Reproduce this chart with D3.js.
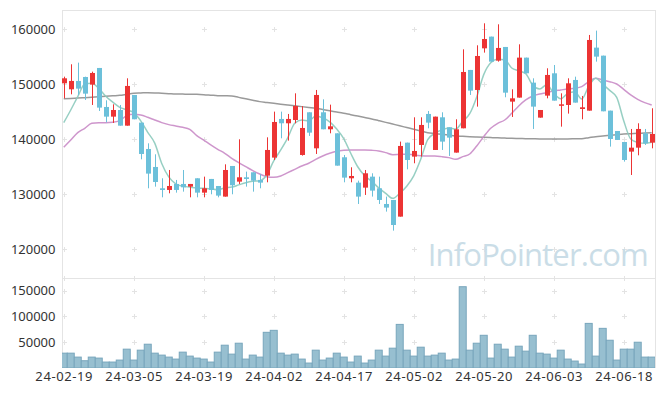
<!DOCTYPE html>
<html><head><meta charset="utf-8">
<script src="https://cdn.jsdelivr.net/npm/d3@7"></script>
<style>
html,body{margin:0;padding:0;background:#fff;}
svg{display:block;font-family:"Noto Sans",sans-serif;}
</style></head>
<body>
<svg id="chart" width="665" height="396"></svg>
<script>
const dates = ["24-02-19","24-02-20","24-02-21","24-02-22","24-02-23","24-02-26","24-02-27","24-02-28","24-02-29","24-03-04",
"24-03-05","24-03-06","24-03-07","24-03-08","24-03-11","24-03-12","24-03-13","24-03-14","24-03-15","24-03-18",
"24-03-19","24-03-20","24-03-21","24-03-22","24-03-25","24-03-26","24-03-27","24-03-28","24-03-29","24-04-01",
"24-04-02","24-04-03","24-04-04","24-04-05","24-04-08","24-04-09","24-04-11","24-04-12","24-04-15","24-04-16",
"24-04-17","24-04-18","24-04-19","24-04-22","24-04-23","24-04-24","24-04-25","24-04-26","24-04-29","24-04-30",
"24-05-02","24-05-03","24-05-07","24-05-08","24-05-09","24-05-10","24-05-13","24-05-14","24-05-16","24-05-17",
"24-05-20","24-05-21","24-05-22","24-05-23","24-05-24","24-05-27","24-05-28","24-05-29","24-05-30","24-05-31",
"24-06-03","24-06-04","24-06-05","24-06-07","24-06-10","24-06-11","24-06-12","24-06-13","24-06-14","24-06-17",
"24-06-18","24-06-19","24-06-20","24-06-21","24-06-24"];

const open  = [150120,149030,150550,151270,149880,152910,145820,144060,145270,142420,
148000,142970,138180,134910,131030,130730,131820,131820,131330,132850,
130240,132730,131450,129520,135090,132240,133030,133940,132550,133330,
136610,143640,142850,143450,137090,144850,138300,144850,141760,141030,
136670,132850,132060,131150,133150,131030,128180,128910,125880,139330,
136790,138910,144550,138000,143940,142120,137520,141940,152550,148910,
156480,158610,154240,156730,146790,147520,154790,150240,143880,147880,
151940,146060,146180,150730,145450,145150,156610,155150,145150,141450,
139450,137700,138420,141030,139330];
const high  = [151330,153580,153880,151330,152240,152910,147030,146300,146180,151030,
148000,142970,139210,137210,132850,134360,132550,134360,131820,132850,
133150,132730,131450,135390,135090,139940,134060,133940,133580,140300,
144970,144970,144550,148300,145970,144850,148910,147210,146240,141030,
137090,134850,132420,134360,133760,133150,129520,128910,139520,139330,
143940,143940,145090,144060,144850,142120,143580,156300,152550,157030,
161030,158610,160850,156730,149030,157210,154790,151030,145270,152850,
153450,148300,151030,151330,147820,158910,159700,155150,145150,141450,
139450,141820,142850,141820,145580];
const low   = [147390,148120,148000,147090,146180,145090,143030,142910,142420,142420,
143580,136300,131030,131330,129390,130120,130240,130420,129390,129390,
129390,129940,129390,129520,129940,131820,131330,130420,131030,132120,
136180,140120,139700,142850,136970,140550,137270,141760,141030,135150,
132120,132120,128180,129820,129520,128180,126790,123330,125880,134480,
135580,136790,141940,138000,138000,136910,137520,141940,148000,145880,
155700,154060,154060,147580,144000,147520,151940,141820,143880,147390,
146970,142240,144610,146610,143580,145150,154060,145030,138610,139820,
135880,133450,137030,138910,138300];
const close = [151030,150550,149150,148240,152000,145700,144060,145270,142420,149640,
143580,137270,133700,132180,130730,131450,130730,131210,131820,130240,
131030,130730,129700,134360,131580,133030,132730,132420,132060,138000,
143090,142850,143640,146000,142000,141150,148000,141760,142300,135150,
132970,133270,129520,133760,130610,128910,127520,124360,138730,136180,
137820,142550,142970,144060,139520,140240,141760,152180,148790,155090,
158180,154060,156550,148420,147390,154790,151940,145880,145270,151640,
146970,146300,150120,146610,145760,158000,154970,145030,140000,139820,
136180,138420,141820,139210,140910];
const volume = [28800,28800,21150,14100,21150,19230,11540,11540,15380,36540,
15380,34600,46150,28800,25000,21150,17300,30770,23080,19230,
17300,11540,30770,44230,26920,48080,17300,25000,21150,69230,
73080,28800,25000,26920,17300,9600,34600,15380,19230,28800,
21150,11540,23080,9600,15380,34600,23080,38460,84600,34600,
23080,40380,23080,25000,28800,15380,17300,157700,34600,48080,
63460,19230,46150,36540,21150,42310,32690,63460,28800,26920,
19230,34600,17300,13460,7690,86540,23080,76920,53850,15380,
36540,36540,50000,21150,21150];
const ma5 = [142970,145270,147700,150000,150120,149210,147760,146700,145760,145300,
144800,143300,141200,139250,135550,133100,131850,131400,131250,131100,
131030,130950,130780,131100,131250,131650,132050,132300,132400,133450,
136000,138000,140200,142850,143450,143300,144180,143850,143100,141800,
140080,137400,134950,133300,132300,131100,130100,129200,130120,131400,
133300,136300,139900,141000,141650,142000,141800,143200,144600,147650,
151700,153850,154500,154400,152900,152400,151880,149750,149070,149860,
148320,147300,148300,148600,147270,149600,151060,149950,148830,147570,
143320,140000,139380,139200,139400];
const ma20 = [138480,139820,141150,141940,142850,142970,142970,143030,143330,144240,
144480,144360,143940,143450,142970,142610,142360,142120,141760,140600,
139800,138910,138120,137390,136480,135700,134970,134240,133640,133150,
133030,133270,133880,134480,135090,135580,136300,136910,137390,137760,
137940,138000,138000,138000,137940,137820,137520,137150,137200,137240,
137090,136970,136910,136910,136790,136610,136300,136790,137270,138730,
140420,141940,142850,143450,144670,146000,147090,147820,148180,148420,
148730,148910,149090,149210,149520,150420,151030,150730,150420,150000,
149030,148000,147210,146610,146180];
const ma60 = [147330,147380,147440,147510,147580,147670,147760,147850,147940,148120,
148300,148360,148420,148380,148300,148240,148180,148160,148140,148120,
148060,147970,147880,147850,147820,147560,147300,147050,146790,146640,
146490,146330,146180,146030,145880,145730,145580,145350,145120,144900,
144670,144410,144160,143900,143640,143330,143020,142710,142400,142080,
141760,141450,141150,141000,140850,140700,140550,140490,140420,140360,
140300,140250,140210,140160,140120,140090,140060,140030,140000,140000,
140000,140000,140000,140030,140060,140240,140420,140540,140660,140790,
140910,140970,141030,141090,141150];
const priceTicks = [120000,130000,140000,150000,160000];
const volumeTicks = [50000,100000,150000];
const dateTickIdx = [0,10,20,30,40,50,60,70,80];

const svg = d3.select("#chart");
const L = 62, R = 655, PT = 10, PB = 278, VT = 278, VB = 368;
const idx = d3.range(dates.length);
const x = d3.scaleLinear().domain([-0.25, 84.47]).range([L, R]);
const yP = d3.scaleLinear().domain([114720, 163450]).range([PB, PT]);
const yV = d3.scaleLinear().domain([0, 174600]).range([VB, VT]);

svg.append("rect").attr("width",665).attr("height",396).attr("fill","#fff");
const defs = svg.append("defs");
defs.append("clipPath").attr("id","cp").append("rect").attr("x",L).attr("y",PT).attr("width",R-L).attr("height",PB-PT);
defs.append("clipPath").attr("id","cv").append("rect").attr("x",L).attr("y",VT).attr("width",R-L).attr("height",VB-VT);

// grid crosses
const grid = svg.append("g").attr("stroke","#e3e3e3").attr("stroke-width",1);
function cross(cx, cy){
  grid.append("path").attr("d",`M${cx-2.5},${cy}H${cx+2.5}M${cx},${cy-2.5}V${cy+2.5}`);
}
dateTickIdx.forEach(i=>{
  const cx = Math.round(x(i))+0.5;
  priceTicks.forEach(p=>cross(cx, Math.round(yP(p))+0.5));
  volumeTicks.forEach(v=>cross(cx, Math.round(yV(v))+0.5));
  cross(cx, PB+0.5);
});

// watermark
svg.append("text").attr("x",R-7).attr("y",266).attr("text-anchor","end")
  .attr("font-size",31).attr("letter-spacing","-0.8px").attr("fill","#cadde7")
  .attr("font-family","'Open Sans','Noto Sans',sans-serif")
  .text("InfoPointer.com");

// frame
svg.append("path").attr("d",`M${L+0.5},${PT}V${VB}M${L},${PT+0.5}H${R}M${R+0.5},${PT}V${VB}M${L},${PB+0.5}H${R}`)
  .attr("stroke","#e4e4e4").attr("fill","none");

// volume bars
svg.append("g").attr("clip-path","url(#cv)").selectAll("rect").data(idx).join("rect")
  .attr("x",i=>x(i)-3.5).attr("width",7)
  .attr("y",i=>yV(volume[i])).attr("height",i=>VB-yV(volume[i]))
  .attr("fill","#97bfd0").attr("stroke","#78a6bc").attr("stroke-width",1);

// MA lines
const gp = svg.append("g").attr("clip-path","url(#cp)");
const line = arr => d3.line().x(i=>x(i)).y(i=>yP(arr[i])).curve(d3.curveMonotoneX)(idx);
gp.append("path").attr("d",line(ma60)).attr("fill","none").attr("stroke","#8f8f8f").attr("stroke-width",1.5).attr("opacity",0.9);
gp.append("path").attr("d",line(ma20)).attr("fill","none").attr("stroke","#c98bc6").attr("stroke-width",1.5).attr("opacity",0.9);
gp.append("path").attr("d",line(ma5)).attr("fill","none").attr("stroke","#8ccabd").attr("stroke-width",1.5).attr("opacity",0.9);

// candles
const up = i => close[i] >= open[i];
const col = i => up(i) ? "#ec3434" : "#6cc0da";
const cg = gp.append("g");
cg.selectAll("line").data(idx).join("line")
  .attr("x1",i=>Math.round(x(i))+0.5).attr("x2",i=>Math.round(x(i))+0.5)
  .attr("y1",i=>yP(high[i])).attr("y2",i=>yP(low[i]))
  .attr("stroke",col).attr("stroke-width",1);
cg.selectAll("rect").data(idx).join("rect")
  .attr("x",i=>Math.round(x(i))-2).attr("width",5)
  .attr("y",i=>yP(Math.max(open[i],close[i])))
  .attr("height",i=>Math.max(1.5, yP(Math.min(open[i],close[i]))-yP(Math.max(open[i],close[i]))))
  .attr("fill",col);

// axes
const styleText = (g, ls) => { g.select(".domain").remove(); g.selectAll("text").attr("fill","#333").attr("font-size",13).attr("font-family","'Noto Sans',sans-serif").attr("letter-spacing", ls); };
svg.append("g").attr("transform",`translate(${L},0)`)
  .call(d3.axisLeft(yP).tickValues(priceTicks).tickSize(0).tickPadding(6.5).tickFormat(d3.format("d")))
  .call(g=>styleText(g,"0px"));
svg.append("g").attr("transform",`translate(${L},0)`)
  .call(d3.axisLeft(yV).tickValues(volumeTicks).tickSize(0).tickPadding(6.5).tickFormat(d3.format("d")))
  .call(g=>styleText(g,"0px"));
svg.append("g").attr("transform",`translate(0,${VB})`)
  .call(d3.axisBottom(x).tickValues(dateTickIdx).tickSize(0).tickPadding(4).tickFormat(i=>dates[i]))
  .call(g=>styleText(g,"0.6px"));
</script>
</body></html>
